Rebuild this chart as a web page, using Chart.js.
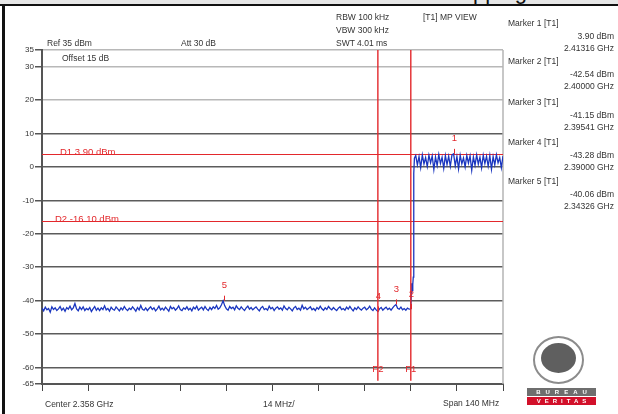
<!DOCTYPE html>
<html>
<head>
<meta charset="utf-8">
<script src="https://cdn.jsdelivr.net/npm/chart.js@4.4.1/dist/chart.umd.min.js"></script>
<style>
  html, body { margin: 0; padding: 0; background: #fff; }
  #wrap { position: relative; width: 618px; height: 414px; overflow: hidden; font-family: "Liberation Sans", Arial, sans-serif; }
  #chart { position: absolute; left: 0; top: 0; }
  .t { position: absolute; font-size: 8.5px; line-height: 10px; color: #333; white-space: nowrap; }
  .r { text-align: right; right: 4px; }
</style>
</head>
<body>
<div id="wrap">
  <canvas id="chart" width="618" height="414"></canvas>

  <!-- page frame -->
  <div style="position:absolute;left:0;top:0;width:618px;height:4px;background:#e6e6e6;overflow:hidden;">
    <span style="position:absolute;left:445px;top:-19.5px;font-size:22px;line-height:22px;color:#111;">Hopping</span>
  </div>
  <div style="position:absolute;left:0;top:4px;width:618px;height:2px;background:#111;"></div>
  <div style="position:absolute;left:2px;top:4px;width:3px;height:410px;background:#111;"></div>

  <!-- instrument settings -->
  <div class="t" style="left:47px;top:37.5px;">Ref 35 dBm</div>
  <div class="t" style="left:181px;top:38px;">Att 30 dB</div>
  <div class="t" style="left:62px;top:53px;">Offset 15 dB</div>
  <div class="t" style="left:336px;top:12px;">RBW 100 kHz</div>
  <div class="t" style="left:336px;top:25px;">VBW 300 kHz</div>
  <div class="t" style="left:336px;top:37.5px;">SWT 4.01 ms</div>
  <div class="t" style="left:423px;top:12px;">[T1] MP VIEW</div>

  <!-- marker table -->
  <div id="markerTable"></div>

  <!-- bottom labels -->
  <div class="t" style="left:45px;top:398.5px;">Center 2.358 GHz</div>
  <div class="t" style="left:263px;top:398.5px;">14 MHz/</div>
  <div class="t" style="left:443px;top:397.5px;">Span 140 MHz</div>

  <!-- logo -->
  <div style="position:absolute;left:533px;top:336px;width:47px;height:44px;border:2px solid #8c8c8c;border-radius:50%;"></div>
  <div style="position:absolute;left:541px;top:343px;width:35px;height:30px;background:#5f5f5f;border-radius:50%;"></div>
  <div style="position:absolute;left:527px;top:388px;width:69px;height:8px;background:#6e6e6e;color:#fff;font-size:6px;line-height:8px;font-weight:bold;text-align:center;letter-spacing:5px;text-indent:5px;">BUREAU</div>
  <div style="position:absolute;left:527px;top:397px;width:69px;height:8px;background:#d2102a;color:#fff;font-size:6px;line-height:8px;font-weight:bold;text-align:center;letter-spacing:4px;text-indent:4px;">VERITAS</div>
</div>

<script>
// Spectrum plot - band edge, 2.288 .. 2.428 GHz (values in MHz / dBm)

const xTicks = [2288, 2302, 2316, 2330, 2344, 2358, 2372, 2386, 2400, 2414, 2428];
const yTicks = [35, 30, 20, 10, 0, -10, -20, -30, -40, -50, -60, -65];

// noise floor, 2288.0 .. 2399.5 MHz in 0.5 MHz steps
const floorStart = 2288;
const floorStep = 0.5;
const floorLevels = [
  -42.3, -43.1, -42.0, -42.8, -42.4, -43.5, -41.9, -42.7, -42.2, -43.0, -42.5, -41.8, -42.9, -42.3, -43.2, -42.1,
  -42.6, -41.7, -42.8, -42.2, -40.9, -42.5, -43.1, -42.0, -42.7, -41.9, -43.0, -42.4, -42.8, -42.1, -43.3, -42.5,
  -41.8, -42.9, -42.3, -43.0, -42.2, -42.7, -41.6, -42.8, -42.4, -43.2, -42.0, -42.6, -42.9, -41.9, -42.5, -43.1,
  -42.2, -42.8, -41.8, -42.6, -43.0, -42.3, -42.7, -41.9, -42.5, -43.2, -42.1, -42.8, -41.5, -42.6, -42.9, -42.2,
  -43.0, -42.4, -41.9, -42.7, -42.2, -43.1, -42.5, -41.7, -42.8, -42.3, -42.9, -42.0, -42.6, -43.2, -41.8, -42.5,
  -42.1, -42.9, -42.4, -41.6, -42.7, -43.0, -42.2, -42.6, -41.9, -42.8, -42.3, -43.1, -42.0, -42.5, -41.7, -42.9,
  -42.4, -42.0, -42.8, -41.8, -42.6, -43.0, -42.1, -42.7, -41.9, -42.4, -41.5, -42.6, -42.2, -41.3, -40.1, -41.6,
  -42.5, -42.9, -41.8, -42.4, -42.0, -42.8, -41.6, -42.3, -42.7, -41.9, -42.5, -43.0, -42.2, -41.7, -42.6, -42.1,
  -42.8, -42.3, -41.9, -42.6, -43.1, -42.2, -41.8, -42.7, -42.4, -42.9, -41.7, -42.5, -42.1, -43.0, -42.3, -41.9,
  -42.6, -42.2, -42.9, -41.6, -42.4, -42.8, -42.0, -42.5, -43.1, -42.2, -41.8, -42.7, -42.3, -42.9, -41.4, -42.5,
  -42.0, -42.7, -42.3, -41.9, -42.8, -42.4, -43.0, -42.1, -42.6, -41.7, -42.5, -42.9, -42.2, -42.7, -41.8, -42.4,
  -42.8, -42.1, -42.6, -43.0, -42.3, -41.9, -42.7, -42.4, -42.9, -42.0, -42.6, -41.8, -42.5, -43.1, -42.2, -42.7,
  -41.9, -42.5, -42.9, -42.3, -42.0, -42.8, -42.4, -41.7, -42.6, -43.0, -42.2, -42.8, -43.3, -42.5, -42.1, -42.9,
  -42.4, -42.0, -42.7, -42.3, -42.9, -42.2, -41.6, -41.2, -42.3, -42.6, -42.0, -42.8, -42.4, -42.9, -42.3, -42.6
];

// band edge transition
const edgeFreqs = [2400.0, 2400.15, 2400.3, 2400.45, 2400.6, 2400.75, 2400.9, 2401.1];
const edgeLevels = [-42.54, -37.5, -34.8, -37.0, -35.2, -33.0, -2.0, 2.6];

// in-band emission, 2401.5 .. 2428.0 MHz in 0.5 MHz steps
const bandStart = 2401.5;
const bandStep = 0.5;
const bandLevels = [
  3.4, 0.6, 3.1, -0.2, 3.6, 0.9, 2.8, 0.1, 3.5, 1.2,
  3.3, -0.8, 3.0, 0.4, 3.7, 1.0, 2.9, -0.4, 3.4, 0.7,
  3.2, 0.2, 3.6, 3.9, 0.3, 3.1, -0.6, 3.5, 0.9, 2.7,
  0.0, 3.4, 1.1, 3.3, -1.0, 3.0, 0.5, 3.6, 0.8, 2.9,
  -0.3, 3.5, 1.0, 3.2, 0.2, 3.4, -0.7, 3.1, 0.6, 3.6,
  1.2, 2.8, -0.2, 3.3
];

// markers
const markerNames = ['1', '2', '3', '4', '5'];
const markerFreqs = [2413.16, 2400.00, 2395.41, 2390.00, 2343.26];
const markerLevels = [3.90, -42.54, -41.15, -43.28, -40.06];

// display lines and frequency lines
const dLineNames = ['D1 3.90 dBm', 'D2 -16.10 dBm'];
const dLineLevels = [3.90, -16.10];
const fLineNames = ['F1', 'F2'];
const fLineFreqs = [2400.0, 2390.0];

const RED = '#e3282c';

// marker readout on the right
(function buildMarkerTable() {
  const box = document.getElementById('markerTable');
  const tops = [18, 56, 97, 137, 176];
  let html = '';
  markerNames.forEach((name, i) => {
    const t = tops[i];
    html += `<div class="t" style="left:508px;top:${t}px;">Marker ${name} [T1]</div>`;
    html += `<div class="t r" style="top:${t + 13}px;">${markerLevels[i].toFixed(2)} dBm</div>`;
    html += `<div class="t r" style="top:${t + 25}px;">${(markerFreqs[i] / 1000).toFixed(5)} GHz</div>`;
  });
  box.innerHTML = html;
})();

// trace points
const trace = [];
floorLevels.forEach((v, i) => trace.push({ x: floorStart + i * floorStep, y: v }));
edgeFreqs.forEach((f, i) => trace.push({ x: f, y: edgeLevels[i] }));
bandLevels.forEach((v, i) => trace.push({ x: bandStart + i * bandStep, y: v }));

const overlays = {
  id: 'overlays',
  beforeDatasetsDraw(chart) {
    const { ctx, chartArea, scales: { y } } = chart;
    ctx.save();
    // right frame edge
    ctx.strokeStyle = '#b4b4b4';
    ctx.lineWidth = 1.5;
    ctx.beginPath();
    ctx.moveTo(chartArea.right, chartArea.top);
    ctx.lineTo(chartArea.right, chartArea.bottom);
    ctx.stroke();

    // horizontal display lines
    ctx.strokeStyle = RED;
    ctx.fillStyle = RED;
    ctx.lineWidth = 1;
    ctx.font = '9.5px "Liberation Sans", Arial, sans-serif';
    ctx.textBaseline = 'alphabetic';
    ctx.textAlign = 'left';
    dLineLevels.forEach((lvl, i) => {
      const py = Math.round(y.getPixelForValue(lvl)) + 0.5;
      ctx.beginPath();
      ctx.moveTo(chartArea.left, py);
      ctx.lineTo(chartArea.right, py);
      ctx.stroke();
      ctx.fillText(dLineNames[i], chartArea.left + (i === 0 ? 18 : 13), py);
    });
    ctx.restore();
  },
  afterDatasetsDraw(chart) {
    const { ctx, chartArea, scales: { x, y } } = chart;
    ctx.save();
    ctx.strokeStyle = RED;
    ctx.fillStyle = RED;
    ctx.font = '9.5px "Liberation Sans", Arial, sans-serif';
    ctx.textAlign = 'center';

    // vertical frequency lines
    ctx.lineWidth = 1.4;
    ctx.textBaseline = 'alphabetic';
    fLineFreqs.forEach((f, i) => {
      const px = x.getPixelForValue(f);
      ctx.beginPath();
      ctx.moveTo(px, chartArea.top);
      ctx.lineTo(px, y.getPixelForValue(-64));
      ctx.stroke();
      ctx.fillText(fLineNames[i], px, y.getPixelForValue(-61.5));
    });

    // marker ticks and numbers
    ctx.lineWidth = 1;
    ctx.textBaseline = 'middle';
    markerNames.forEach((name, i) => {
      const px = Math.round(x.getPixelForValue(markerFreqs[i])) + 0.5;
      const py = y.getPixelForValue(markerLevels[i]);
      ctx.beginPath();
      ctx.moveTo(px, py - 5);
      ctx.lineTo(px, py);
      ctx.stroke();
      ctx.fillText(name, px, py - 15);
    });
    ctx.restore();
  }
};

new Chart(document.getElementById('chart'), {
  type: 'line',
  data: {
    datasets: [{
      data: trace,
      borderColor: '#1a36bf',
      borderWidth: 1.3,
      pointRadius: 0,
      tension: 0
    }]
  },
  options: {
    responsive: false,
    animation: false,
    layout: { padding: { left: 0, top: 50, right: 115, bottom: 20 } },
    plugins: { legend: { display: false }, tooltip: { enabled: false } },
    scales: {
      x: {
        type: 'linear',
        min: 2288,
        max: 2428,
        afterBuildTicks: s => { s.ticks = xTicks.map(v => ({ value: v })); },
        afterFit: s => { s.height = 10; },
        ticks: { display: false },
        grid: { drawOnChartArea: false, drawTicks: true, tickLength: 7, color: '#444', tickColor: '#444' },
        border: { display: true, color: '#555', width: 2 }
      },
      y: {
        type: 'linear',
        min: -65,
        max: 35,
        afterBuildTicks: s => { s.ticks = yTicks.map(v => ({ value: v })); },
        afterFit: s => { s.width = 42; },
        ticks: {
          color: '#333',
          padding: 1,
          font: { size: 8, family: 'Liberation Sans' }
        },
        grid: {
          tickLength: 7,
          lineWidth: 1.5,
          tickColor: '#555',
          color: c => (c.tick && c.tick.value >= 20) ? '#b8b8b8' : '#5c5c5c'
        },
        border: { display: true, color: '#555', width: 2 }
      }
    }
  },
  plugins: [overlays]
});
</script>
</body>
</html>
